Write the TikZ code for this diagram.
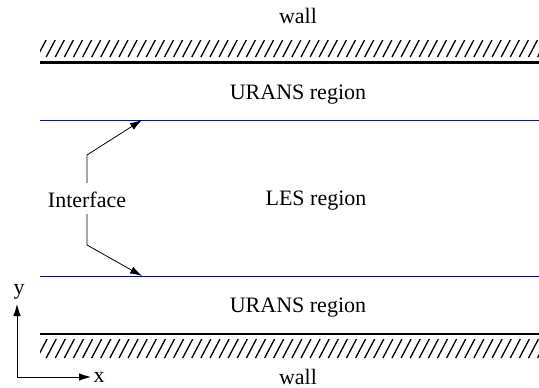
\documentclass[tikz,border=0pt]{standalone}
\usepackage{fontspec}
\setmainfont{Liberation Serif}
\usetikzlibrary{arrows.meta}
\begin{document}
\begin{tikzpicture}[x=1pt,y=-1pt,
  lbl/.style={font=\fontsize{22}{26}\selectfont, inner sep=0pt},
  wallline/.style={line width=2.6pt},
  hatchline/.style={line width=1.3pt},
  iface/.style={blue, line width=0.9pt},
  arr/.style={line width=0.8pt, -{Latex[length=12pt,width=7.5pt]}}]
\useasboundingbox (0,0) rectangle (539,388);
% texts
\node[lbl] (walltop) at (298,16) {wall};
\node[lbl] (wallbot) at (298,377) {wall};
\node[lbl] (uranstop) at (298,95) {URANS region};
\node[lbl] (uransbot) at (298,308) {URANS region};
\node[lbl] (les) at (316,201) {LES region};
\node[lbl] (iface) at (87,200) {Interface};
% walls
\draw[wallline] (40,62.5) -- (539,62.5);
\draw[wallline] (40,334) -- (539,334);
\begin{scope}
\clip (40,40) rectangle (539,57);
\foreach \x in {28,37.1,...,560} \draw[hatchline] (\x,57) -- (\x+9,40);
\end{scope}
\begin{scope}
\clip (40,339) rectangle (539,358);
\foreach \x in {28,37.1,...,560} \draw[hatchline] (\x,358) -- (\x+10,339);
\end{scope}
% interfaces
\draw[iface] (40,120) -- (539,120);
\draw[iface] (40,276) -- (539,276);
\coordinate (itop) at (142,120);
\coordinate (ibot) at (142,276);
\draw[arr] (87,183) -- (87,155) -- (itop);
\draw[arr] (87,214) -- (87,245) -- (ibot);
% axes
\coordinate (origin) at (17,377);
\coordinate (yend) at (17,304);
\coordinate (xend) at (91,377);
\node[lbl] (ylab) at (19,292) {y};
\node[lbl] (xlab) at (99,377.5) {x};
\draw[arr] (origin) -- (yend);
\draw[arr] (origin) -- (xend);
\end{tikzpicture}
\end{document}
